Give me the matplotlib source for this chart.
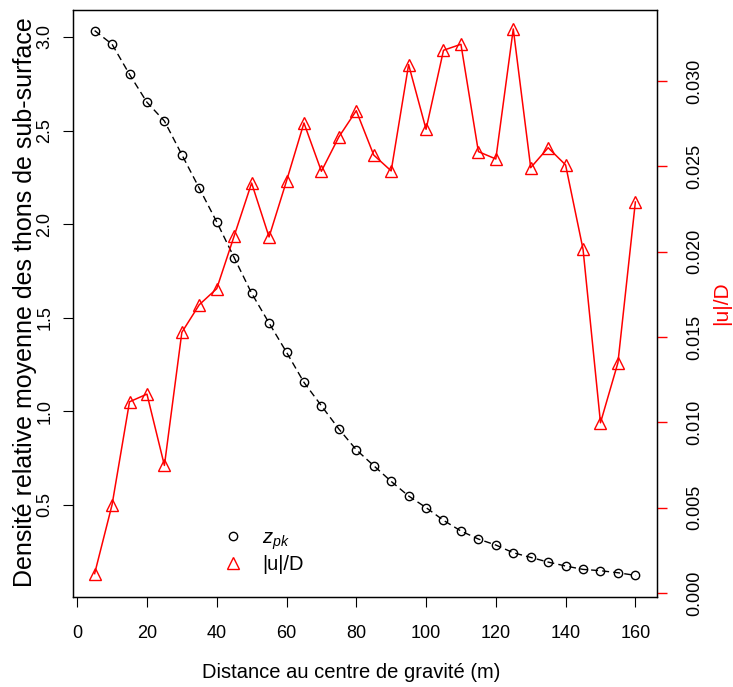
import matplotlib
matplotlib.use("Agg")
import matplotlib.pyplot as plt
from matplotlib.lines import Line2D

plt.rcParams['font.family'] = ['Liberation Sans', 'DejaVu Sans']
plt.rcParams['mathtext.fontset'] = 'custom'
plt.rcParams['mathtext.rm'] = 'Liberation Sans'
plt.rcParams['mathtext.it'] = 'Liberation Sans:italic'

# distance from centre of gravity (m)
distance = [5, 10, 15, 20, 25, 30, 35, 40, 45, 50, 55, 60, 65, 70, 75, 80,
            85, 90, 95, 100, 105, 110, 115, 120, 125, 130, 135, 140, 145, 150, 155, 160]

# relative mean density (left axis)
zpk = [3.034, 2.961, 2.800, 2.651, 2.551, 2.371, 2.192, 2.012, 1.821, 1.631,
       1.472, 1.316, 1.155, 1.030, 0.906, 0.795, 0.710, 0.626, 0.548, 0.486,
       0.418, 0.361, 0.318, 0.286, 0.245, 0.220, 0.195, 0.174, 0.156, 0.149,
       0.138, 0.124]

# |u|/D (right axis)
u_over_d = [0.00114, 0.00518, 0.01121, 0.01166, 0.00748, 0.01528, 0.01690, 0.01784,
            0.02093, 0.02403, 0.02087, 0.02415, 0.02755, 0.02472, 0.02673, 0.02827,
            0.02567, 0.02474, 0.03097, 0.02718, 0.03181, 0.03216, 0.02587, 0.02544,
            0.03306, 0.02493, 0.02610, 0.02509, 0.02015, 0.00998, 0.01350, 0.02292]

x_ticks = [0, 20, 40, 60, 80, 100, 120, 140, 160]
left_ticks = [0.5, 1.0, 1.5, 2.0, 2.5, 3.0]
right_ticks = [0.000, 0.005, 0.010, 0.015, 0.020, 0.025, 0.030]

W, H = 733, 687
fig = plt.figure(figsize=(W / 100, H / 100), dpi=100)
ax = fig.add_axes([73 / W, (H - 597) / H, (657 - 73) / W, (597 - 10) / H])
ax2 = ax.twinx()

ax.plot(distance, zpk, color='black', lw=1.0, dashes=(5, 3),
        marker='o', ms=6, mfc='none', mec='black', mew=1.0)
ax2.plot(distance, u_over_d, color='red', lw=1.1,
         marker='^', ms=9, mfc='none', mec='red', mew=1.0)

ax.set_xlim(-1.2, 166.2)
ax.set_ylim(0.0085, 3.144)
ax2.set_ylim(-0.00023, 0.03417)

ax.set_xticks(x_ticks)
ax.set_xticklabels([str(t) for t in x_ticks])
ax.set_yticks(left_ticks)
ax.set_yticklabels([f"{t:.1f}" for t in left_ticks], rotation=90, va='center')
ax2.set_yticks(right_ticks)
ax2.set_yticklabels([f"{t:.3f}" for t in right_ticks], rotation=90, va='center')

ax.tick_params(axis='x', length=7, width=0.8, labelsize=13, pad=13)
ax.tick_params(axis='y', length=7, width=0.8, labelsize=13, pad=7)
ax2.tick_params(axis='y', length=7, width=1.0, colors='red', labelcolor='black',
                labelsize=13, pad=14)

for a in (ax, ax2):
    for sp in a.spines.values():
        sp.set_linewidth(0.9)
        sp.set_color('black')

ax.set_xlabel("Distance au centre de gravité (m)", fontsize=14.5)
ax.xaxis.set_label_coords((351 - 73) / 584, (597 - 672) / 587)
ax.xaxis.label.set_va('center')
ax.set_ylabel("Densité relative moyenne des thons de sub-surface", fontsize=18)
ax.yaxis.set_label_coords((25 - 73) / 584, (597 - 302) / 587)
ax.yaxis.label.set_va('center')
ax2.set_ylabel("|u|/D", fontsize=15, color='red', rotation=90)
ax2.yaxis.set_label_coords((722 - 73) / 584, 0.5)
ax2.yaxis.label.set_va('center')

handles = [
    Line2D([], [], ls='none', marker='o', ms=6, mfc='none', mec='black', mew=1.0),
    Line2D([], [], ls='none', marker='^', ms=9, mfc='none', mec='red', mew=1.0),
]
ax2.legend(handles, ["$z_{pk}$", "|u|/D"], loc='center left',
           bbox_to_anchor=((223 - 73) / 584, (597 - 551) / 587),
           frameon=False, fontsize=14.5, borderpad=0, borderaxespad=0,
           handlelength=1.0, handletextpad=0.95, labelspacing=0.15)

fig.savefig("out.png", dpi=100)
